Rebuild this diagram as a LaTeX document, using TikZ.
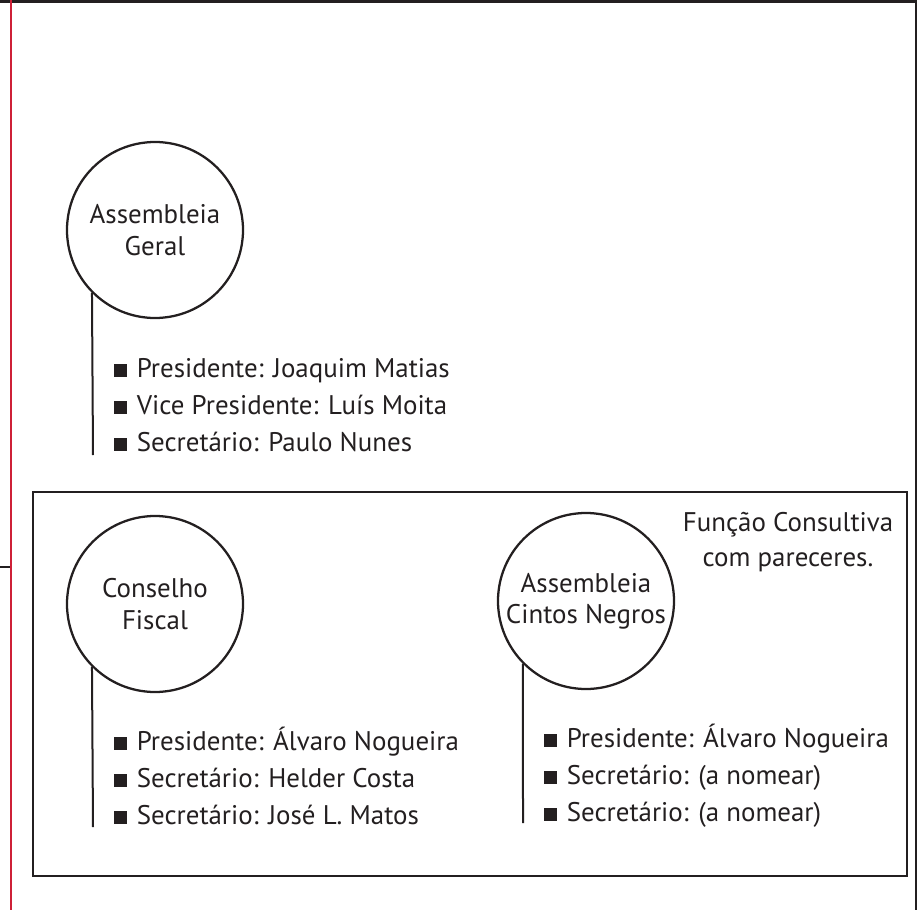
\documentclass[tikz,border=0pt]{standalone}
\usepackage{fontspec}
\setmainfont{PT Sans}
\definecolor{ink}{RGB}{35,31,32}
\definecolor{margem}{RGB}{206,32,55}
\newcommand{\marcador}{\rule{10pt}{10pt}\hspace{7.5pt}}

\tikzset{every picture/.style={line width=0.75pt}}
\tikzset{
  orgao/.style={draw=ink, line width=1.7pt, circle, minimum size=132pt, inner sep=0pt, align=center, text=ink, font=\fontsize{20.2}{23.5}\selectfont},
  membro/.style={anchor=base west, inner sep=0pt, text=ink, font=\fontsize{20.2}{24}\selectfont},
  ligacao/.style={draw=ink, line width=1.5pt},
  moldura/.style={draw=ink, line width=2pt}
}

\begin{document}
\begin{tikzpicture}[x=0.75pt,y=0.75pt,yscale=-1,xscale=1]
	\useasboundingbox (0,0) rectangle (922,910);

	%Straight Lines: page frame
	\draw [moldura] (0,1.5) -- (916,1.5) ;
	\draw [moldura] (916,0) -- (916,910) ;
	\draw [ink, line width=1.5pt] (0,567) -- (11,567) ;
	%Straight Lines: red margin
	\draw [margem, line width=1.9pt] (11,0) -- (11,910) ;
	%Shape: Rectangle
	\draw [moldura] (33,492) rectangle (907,876) ;

	%Shape: Circle
	\node [orgao] (ag) at (155,230) {Assembleia\\Geral};
	\coordinate (agfim) at (93,455);
	%Straight Lines
	\draw [ligacao] (ag.south west) -- (agfim) ;
	% Text Node
	\node [membro] (ag1) at (113,377) {\marcador Presidente: Joaquim Matias};
	% Text Node
	\node [membro] (ag2) at (113,414) {\marcador Vice Presidente: Luís Moita};
	% Text Node
	\node [membro] (ag3) at (113,451) {\marcador Secretário: Paulo Nunes};

	%Shape: Circle
	\node [orgao] (cf) at (155,604) {Conselho\\Fiscal};
	\coordinate (cffim) at (93,827);
	%Straight Lines
	\draw [ligacao] (cf.south west) -- (cffim) ;
	% Text Node
	\node [membro] (cf1) at (113,750) {\marcador Presidente: Álvaro Nogueira};
	% Text Node
	\node [membro] (cf2) at (113,787) {\marcador Secretário: Helder Costa};
	% Text Node
	\node [membro] (cf3) at (113,824) {\marcador Secretário: José L. Matos};

	%Shape: Circle
	\node [orgao] (acn) at (586,601) {Assembleia\\Cintos Negros};
	\coordinate (acnfim) at (523,823);
	%Straight Lines
	\draw [ligacao] (acn.south west) -- (acnfim) ;
	% Text Node
	\node [membro] (acn1) at (543,747) {\marcador Presidente: Álvaro Nogueira};
	% Text Node
	\node [membro] (acn2) at (543,784) {\marcador Secretário: (a nomear)};
	% Text Node
	\node [membro] (acn3) at (543,821) {\marcador Secretário: (a nomear)};

	% Text Node
	\node [text=ink, align=center, inner sep=0pt, font=\fontsize{20.2}{26}\selectfont] (funcao) at (788,542) {Função Consultiva\\com pareceres.};

\end{tikzpicture}
\end{document}
